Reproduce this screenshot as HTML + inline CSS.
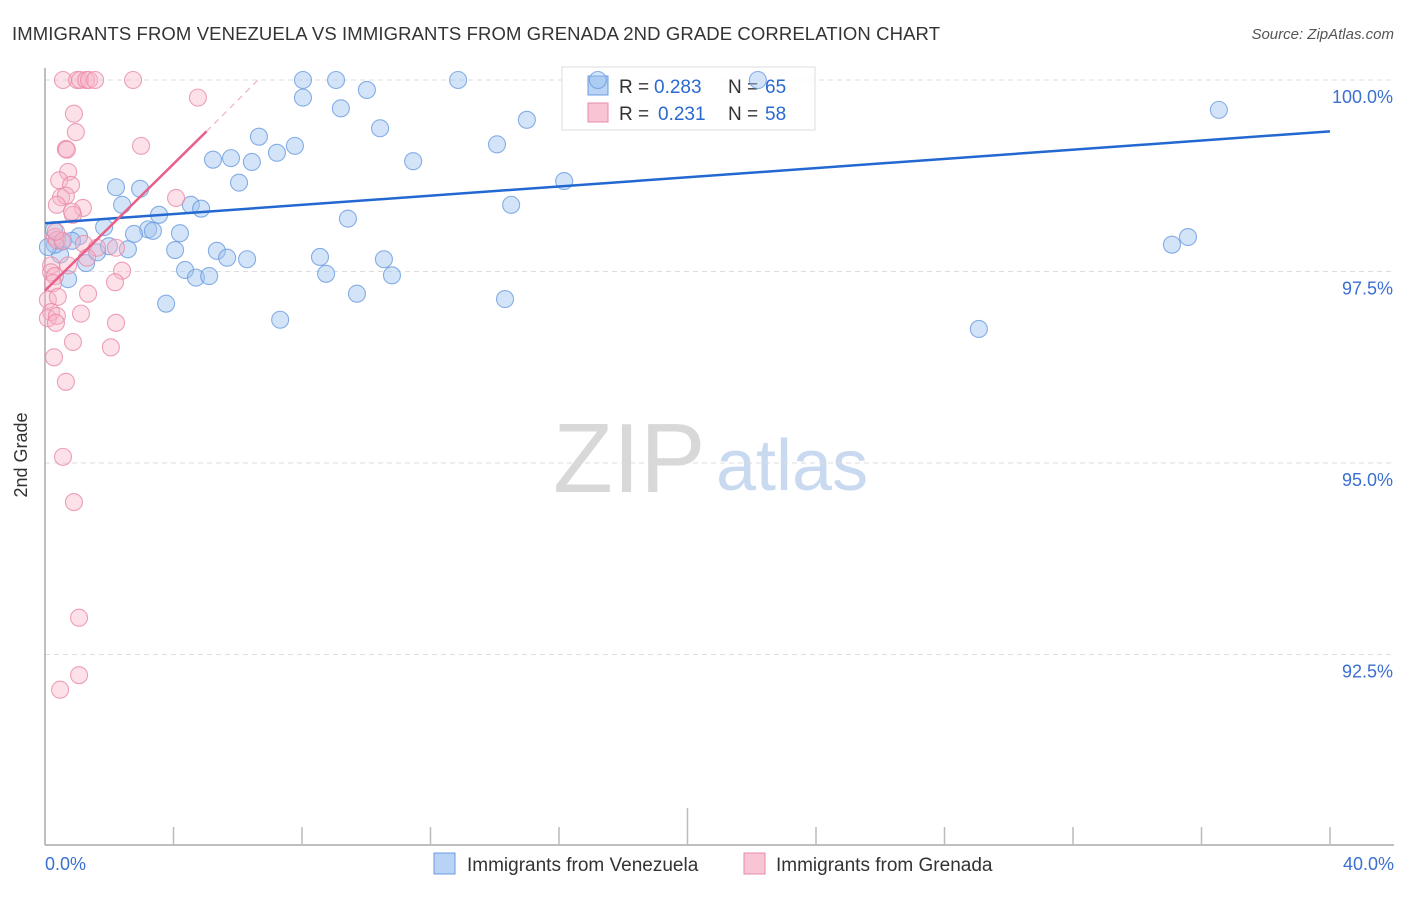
<!DOCTYPE html>
<html><head><meta charset="utf-8"><style>
body{margin:0;background:#fff;font-family:"Liberation Sans",sans-serif}
svg text{font-family:"Liberation Sans",sans-serif}
</style></head><body>
<svg id="c" width="1406" height="892" xmlns="http://www.w3.org/2000/svg">
<text x="12" y="40" font-size="18.5" fill="#333" textLength="928">IMMIGRANTS FROM VENEZUELA VS IMMIGRANTS FROM GRENADA 2ND GRADE CORRELATION CHART</text>
<text x="1394" y="39" font-size="15" fill="#555" text-anchor="end" font-style="italic">Source: ZipAtlas.com</text>
<text x="27" y="455" font-size="18" fill="#333" text-anchor="middle" transform="rotate(-90 27 455)">2nd Grade</text>
<g><text x="553" y="492" font-size="98" font-family="Liberation Serif,serif" fill="#d8d8d8">ZIP</text><text x="716" y="490" font-size="72" fill="#c9daf0">atlas</text></g>
<g id="grid"></g><g id="axes"></g>
<g>
<rect x="562" y="67" width="253" height="63" fill="#fff" fill-opacity="0.75" stroke="#ddd"/>
<rect x="588" y="76" width="20" height="19" fill="#b8d3f4" stroke="#6a9be0"/>
<text x="619" y="93" font-size="19" fill="#333">R =</text>
<text x="654" y="93" font-size="19" fill="#2a6ad0">0.283</text>
<text x="728" y="93" font-size="19" fill="#333">N =</text>
<text x="765" y="93" font-size="19" fill="#2a6ad0">65</text>
<rect x="588" y="103" width="20" height="19" fill="#f9c5d5" stroke="#e88aa8"/>
<text x="619" y="120" font-size="19" fill="#333">R =</text>
<text x="658" y="120" font-size="19" fill="#2a6ad0">0.231</text>
<text x="728" y="120" font-size="19" fill="#333">N =</text>
<text x="765" y="120" font-size="19" fill="#2a6ad0">58</text>
</g>
<g id="pts"></g><g id="trend"></g>
<g>
<rect x="434" y="853" width="21" height="21" fill="#b8d3f4" stroke="#6a9be0"/>
<text x="467" y="871" font-size="19" fill="#333">Immigrants from Venezuela</text>
<rect x="744" y="853" width="21" height="21" fill="#f9c5d5" stroke="#e88aa8"/>
<text x="776" y="871" font-size="19" fill="#333">Immigrants from Grenada</text>
</g>
</svg>
<script>
const yTicks=[100,97.5,95,92.5];
const yTickLabels=["100.0%","97.5%","95.0%","92.5%"];
const xTicks=[0,4,8,12,16,20,24,28,32,36,40];
const xEndLabels=["0.0%","40.0%"];
const blueX=[8.03,9.06,12.86,17.21,22.19,8.03,9.21,10.02,10.43,36.54,15.00,6.66,7.78,7.22,5.23,5.79,6.44,11.46,14.07,6.04,16.16,2.21,2.96,2.40,4.54,4.86,14.51,3.55,9.43,1.84,3.21,3.36,4.20,0.28,1.06,2.77,0.53,0.84,2.58,4.05,5.35,5.67,6.29,8.56,10.55,0.47,1.28,1.62,1.99,4.36,4.70,5.11,8.75,10.80,0.72,3.77,9.71,14.32,7.32,29.07,35.08,35.58,0.31,0.09];
const blueY=[100,100,100,100,100,99.77,99.63,99.87,99.37,99.61,99.48,99.26,99.14,99.05,98.96,98.98,98.93,98.94,99.16,98.66,98.68,98.60,98.58,98.37,98.37,98.32,98.37,98.24,98.19,98.08,98.05,98.03,98.00,98.04,97.96,97.99,97.89,97.90,97.79,97.78,97.77,97.68,97.66,97.69,97.66,97.72,97.61,97.75,97.83,97.52,97.42,97.44,97.47,97.45,97.40,97.08,97.21,97.14,96.87,96.75,97.85,97.95,97.85,97.82];
const pinkX=[0.56,1.00,1.09,1.28,1.37,1.56,2.74,4.76,0.90,0.96,0.65,0.68,2.99,0.72,0.44,0.81,0.50,0.65,4.08,0.37,1.18,0.87,0.84,0.31,0.37,0.56,0.34,1.21,1.62,2.21,0.19,0.72,1.31,0.19,0.31,0.25,2.40,2.18,1.34,0.09,0.40,0.19,0.09,0.37,1.12,2.21,0.34,0.87,2.05,0.28,0.65,0.56,0.90,1.06,1.06,0.47];
const pinkY=[100,100,100,100,100,100,100,99.77,99.56,99.32,99.10,99.09,99.14,98.80,98.69,98.63,98.47,98.49,98.46,98.37,98.33,98.24,98.28,97.95,97.91,97.90,98.02,97.86,97.81,97.81,97.58,97.58,97.68,97.49,97.44,97.35,97.51,97.36,97.21,97.13,97.17,96.97,96.89,96.92,96.95,96.83,96.83,96.58,96.51,96.38,96.06,95.08,94.49,92.98,92.23,92.04];
const blueTrend=[[0,98.13],[40,99.33]];
const pinkTrend=[[0,97.25],[5.03,99.33]];
const pinkTrendExt=[[5.03,99.33],[6.63,100]];
const sx=v=>45+v*32.125, sy=v=>80+(100-v)*76.6;
const NS="http://www.w3.org/2000/svg";
function mk(tag,attrs,parent){const e=document.createElementNS(NS,tag);for(const k in attrs)e.setAttribute(k,attrs[k]);document.getElementById(parent).appendChild(e);return e;}
yTicks.forEach((t,i)=>{
 const l=mk('line',{x1:45,x2:1394,y1:sy(t),y2:sy(t),stroke:'#ddd','stroke-dasharray':'5,4'},'grid');
 
 
 const tx=mk('text',{x:1393,y:sy(t)+23,'font-size':18,fill:'#3b6fd0','text-anchor':'end'},'grid');
 tx.textContent=yTickLabels[i];
 
 
});
const ax=mk('line',{x1:45,x2:45,y1:68,y2:845,stroke:'#aaa','stroke-width':1.5},'axes');


const bx=mk('line',{x1:45,x2:1394,y1:845,y2:845,stroke:'#aaa','stroke-width':1.5},'axes');


xTicks.forEach((t,i)=>{if(i===0)return;
 const l=mk('line',{x1:sx(t),x2:sx(t),y1:i===5?808:827,y2:845,stroke:'#bbb','stroke-width':1.5},'axes');
 
 
});
[[0,'start',45],[40,'end',1394]].forEach((d,i)=>{
 const tx=mk('text',{x:d[2],y:870,'font-size':18,fill:'#3b6fd0','text-anchor':d[1]},'axes');
 tx.textContent=xEndLabels[i];
 
 
});
function pts(X,Y,fill,stroke,name){X.forEach((x,i)=>{
 const c=mk('circle',{cx:sx(x),cy:sy(Y[i]),r:8.5,fill:fill,stroke:stroke,'stroke-width':1.1,'stroke-opacity':0.8},'pts');
 
 
});}
pts(blueX,blueY,'rgba(160,196,240,0.45)','#6a9be0','venezuela-point');
pts(pinkX,pinkY,'rgba(248,180,200,0.4)','#e88aa8','grenada-point');
function line(d,col,w,dash,name){const e=mk('line',{x1:sx(d[0][0]),y1:sy(d[0][1]),x2:sx(d[1][0]),y2:sy(d[1][1]),stroke:col,'stroke-width':w},'trend');
 if(dash)e.setAttribute('stroke-dasharray',dash);
 
 }
line(blueTrend,'#2268d0',2.5,null,'venezuela-trendline');
line(pinkTrend,'#e8608a',2.5,null,'grenada-trendline');
line(pinkTrendExt,'#f0b0c4',1.2,'6,5','grenada-trendline-extension');
</script>
</body></html>
